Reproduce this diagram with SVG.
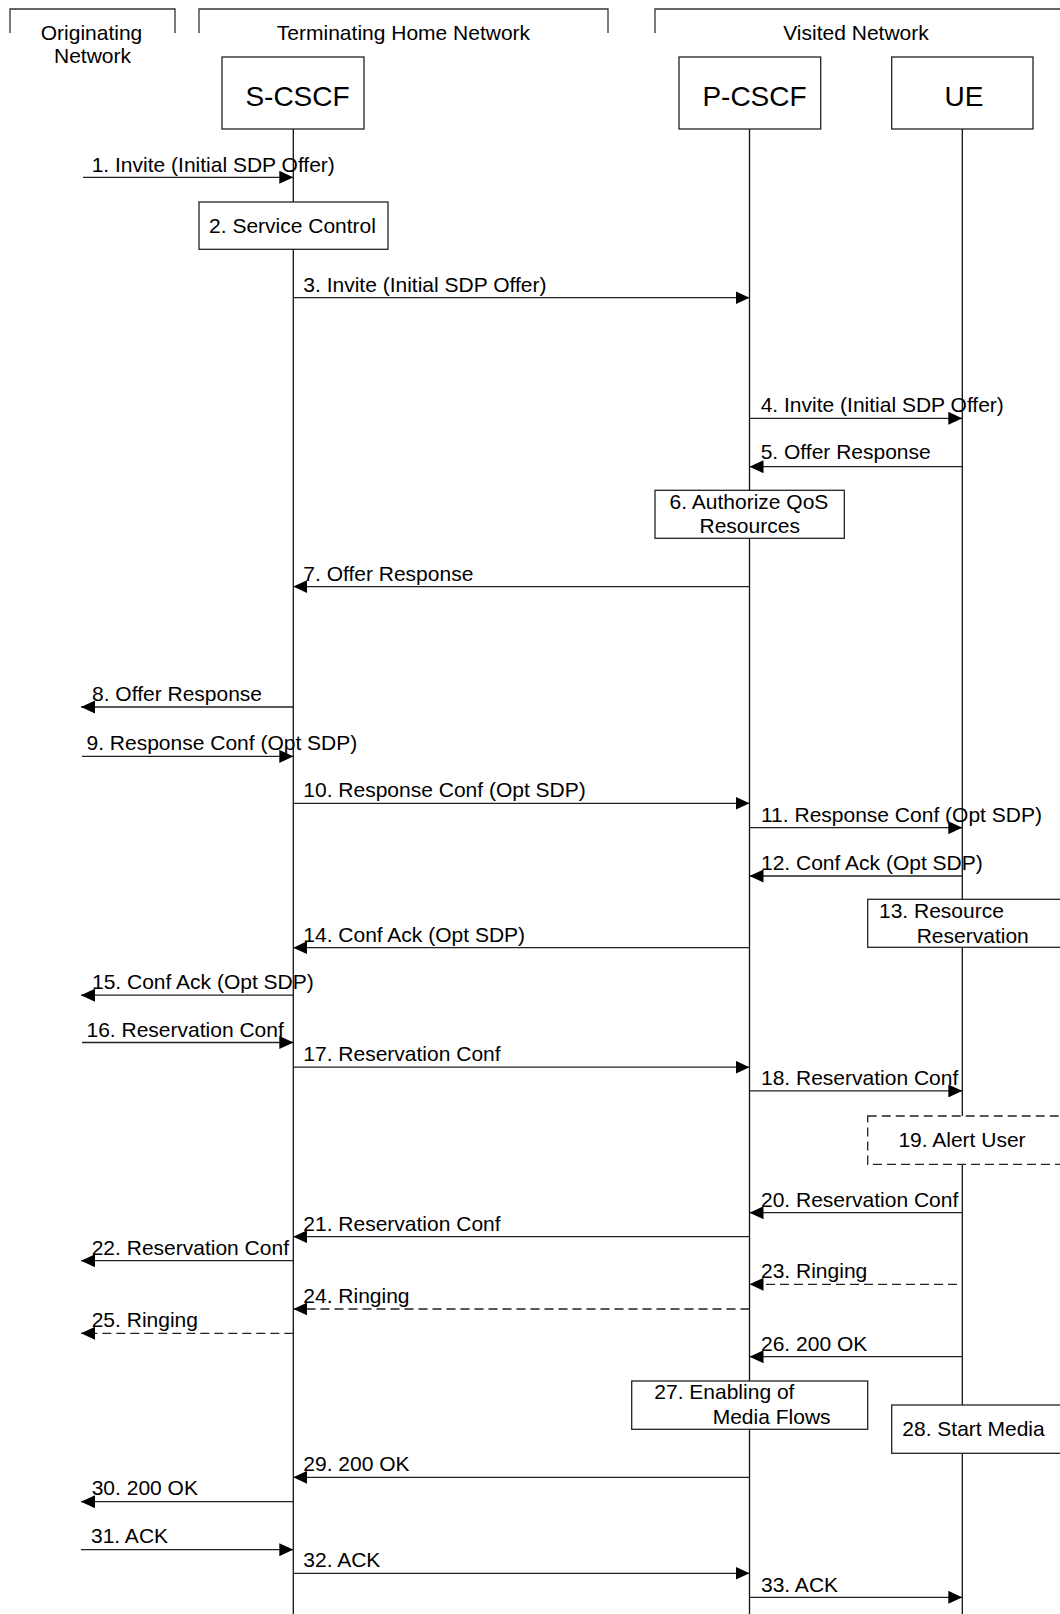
<svg xmlns="http://www.w3.org/2000/svg" width="1060" height="1614" viewBox="0 0 1060 1614">
<style>
text{font-family:"Liberation Sans",Arial,sans-serif;fill:#000}
.lbl{font-size:21px}
.node{font-size:28px;text-anchor:middle}
.mid{text-anchor:middle}
.box{fill:#fff;stroke:#222;stroke-width:1.3}
.dbox{fill:#fff;stroke:#222;stroke-width:1.3;stroke-dasharray:9 5}
.life{stroke:#111;stroke-width:1.3;fill:none}
.br{fill:none;stroke:#333;stroke-width:1.3}
.msg{stroke:#222;stroke-width:1.3;fill:none;marker-end:url(#ah)}
.dash{stroke-dasharray:9 5}
</style>
<defs>
<marker id="ah" markerUnits="userSpaceOnUse" markerWidth="14" markerHeight="13" refX="14" refY="6.5" orient="auto">
<path d="M0,0 L14,6.5 L0,13 z" fill="#000"/>
</marker>
</defs>
<rect width="1060" height="1614" fill="#fff"/>

<g id="domains">
<polyline class="br" points="10,33 10,9 175,9 175,33"/>
<polyline class="br" points="199,33 199,9 608,9 608,33"/>
<polyline class="br" points="655,33 655,9 1062,9"/>
<text class="lbl mid" x="91.5" y="40">Originating</text>
<text class="lbl mid" x="92.5" y="63">Network</text>
<text class="lbl mid" x="403.5" y="40">Terminating Home Network</text>
<text class="lbl mid" x="856" y="39.5">Visited Network</text>
</g>

<g id="lifelines">
<line class="life" x1="293.3" y1="129" x2="293.3" y2="1614"/>
<line class="life" x1="749.5" y1="129" x2="749.5" y2="1614"/>
<line class="life" x1="962.3" y1="129" x2="962.3" y2="1614"/>
</g>

<g id="S-CSCF">
<rect class="box" x="222" y="57" width="142" height="72"/>
<text class="node" x="297.5" y="106">S-CSCF</text>
</g>
<g id="P-CSCF">
<rect class="box" x="679" y="57" width="141.7" height="72"/>
<text class="node" x="754.5" y="105.5">P-CSCF</text>
</g>
<g id="UE">
<rect class="box" x="891.7" y="57" width="141.3" height="72"/>
<text class="node" x="964" y="105.5">UE</text>
</g>

<g id="step2">
<rect class="box" x="199" y="202" width="189" height="47.3"/>
<text class="lbl mid" x="292.5" y="233">2. Service Control</text>
</g>
<g id="step6">
<rect class="box" x="655" y="490.3" width="189.3" height="48"/>
<text class="lbl mid" x="749" y="509">6. Authorize QoS</text>
<text class="lbl mid" x="749.7" y="533.3">Resources</text>
</g>
<g id="step13">
<rect class="box" x="867.7" y="899.3" width="200" height="48"/>
<text class="lbl" x="879" y="917.7">13. Resource</text>
<text class="lbl" x="916.7" y="942.7">Reservation</text>
</g>
<g id="step19">
<rect class="dbox" x="867.7" y="1116" width="200" height="48.3"/>
<text class="lbl mid" x="962" y="1146.7">19. Alert User</text>
</g>
<g id="step27">
<rect class="box" x="631.7" y="1381" width="236" height="48.3"/>
<text class="lbl" x="654.3" y="1399">27. Enabling of</text>
<text class="lbl" x="712.7" y="1424">Media Flows</text>
</g>
<g id="step28">
<rect class="box" x="891.7" y="1405" width="180" height="48.3"/>
<text class="lbl" x="902.3" y="1435.7">28. Start Media</text>
</g>

<g id="connectors">
<line class="msg" x1="83" y1="177.3" x2="293.3" y2="177.3"/>
<line class="msg" x1="293.3" y1="297.7" x2="749.5" y2="297.7"/>
<line class="msg" x1="749.5" y1="418.3" x2="962.3" y2="418.3"/>
<line class="msg" x1="962.3" y1="466.7" x2="749.5" y2="466.7"/>
<line class="msg" x1="749.5" y1="586.6" x2="293.3" y2="586.6"/>
<line class="msg" x1="293.3" y1="707" x2="81" y2="707"/>
<line class="msg" x1="82" y1="756.4" x2="293.3" y2="756.4"/>
<line class="msg" x1="293.3" y1="803.3" x2="749.5" y2="803.3"/>
<line class="msg" x1="749.5" y1="827.7" x2="962.3" y2="827.7"/>
<line class="msg" x1="962.3" y1="876" x2="749.5" y2="876"/>
<line class="msg" x1="749.5" y1="947.7" x2="293.3" y2="947.7"/>
<line class="msg" x1="293.3" y1="995.2" x2="81" y2="995.2"/>
<line class="msg" x1="82" y1="1042.5" x2="293.3" y2="1042.5"/>
<line class="msg" x1="293.3" y1="1067.2" x2="749.5" y2="1067.2"/>
<line class="msg" x1="749.5" y1="1090.9" x2="962.3" y2="1090.9"/>
<line class="msg" x1="962.3" y1="1212.7" x2="749.5" y2="1212.7"/>
<line class="msg" x1="749.5" y1="1236.7" x2="293.3" y2="1236.7"/>
<line class="msg" x1="293.3" y1="1260.7" x2="81" y2="1260.7"/>
<line class="msg dash" x1="957" y1="1284.3" x2="749.5" y2="1284.3"/>
<line class="msg dash" x1="749.5" y1="1309" x2="293.3" y2="1309"/>
<line class="msg dash" x1="293.3" y1="1333.3" x2="81" y2="1333.3"/>
<line class="msg" x1="962.3" y1="1356.7" x2="749.5" y2="1356.7"/>
<line class="msg" x1="749.5" y1="1477.3" x2="293.3" y2="1477.3"/>
<line class="msg" x1="293.3" y1="1501.7" x2="81" y2="1501.7"/>
<line class="msg" x1="81" y1="1549.7" x2="293.3" y2="1549.7"/>
<line class="msg" x1="293.3" y1="1573.3" x2="749.5" y2="1573.3"/>
<line class="msg" x1="749.5" y1="1597.3" x2="962.3" y2="1597.3"/>
</g>

<g id="labels">
<text class="lbl" x="91.7" y="172">1. Invite (Initial SDP Offer)</text>
<text class="lbl" x="303.3" y="291.7">3. Invite (Initial SDP Offer)</text>
<text class="lbl" x="760.7" y="411.7">4. Invite (Initial SDP Offer)</text>
<text class="lbl" x="760.7" y="459.3">5. Offer Response</text>
<text class="lbl" x="303.3" y="580.5">7. Offer Response</text>
<text class="lbl" x="92" y="701">8. Offer Response</text>
<text class="lbl" x="86.5" y="750">9. Response Conf (Opt SDP)</text>
<text class="lbl" x="303.3" y="797">10. Response Conf (Opt SDP)</text>
<text class="lbl" x="761" y="821.7">11. Response Conf (Opt SDP)</text>
<text class="lbl" x="761" y="870">12. Conf Ack (Opt SDP)</text>
<text class="lbl" x="303.3" y="941.5">14. Conf Ack (Opt SDP)</text>
<text class="lbl" x="92" y="989">15. Conf Ack (Opt SDP)</text>
<text class="lbl" x="86.5" y="1036.5">16. Reservation Conf</text>
<text class="lbl" x="303.3" y="1061">17. Reservation Conf</text>
<text class="lbl" x="761" y="1085">18. Reservation Conf</text>
<text class="lbl" x="761" y="1206.7">20. Reservation Conf</text>
<text class="lbl" x="303.3" y="1230.7">21. Reservation Conf</text>
<text class="lbl" x="91.7" y="1255">22. Reservation Conf</text>
<text class="lbl" x="761" y="1278.3">23. Ringing</text>
<text class="lbl" x="303.3" y="1302.7">24. Ringing</text>
<text class="lbl" x="91.7" y="1326.7">25. Ringing</text>
<text class="lbl" x="761" y="1350.5">26. 200 OK</text>
<text class="lbl" x="303.3" y="1470.7">29. 200 OK</text>
<text class="lbl" x="91.7" y="1495">30. 200 OK</text>
<text class="lbl" x="91" y="1543.3">31. ACK</text>
<text class="lbl" x="303.3" y="1566.7">32. ACK</text>
<text class="lbl" x="761" y="1591.7">33. ACK</text>
</g>
</svg>
